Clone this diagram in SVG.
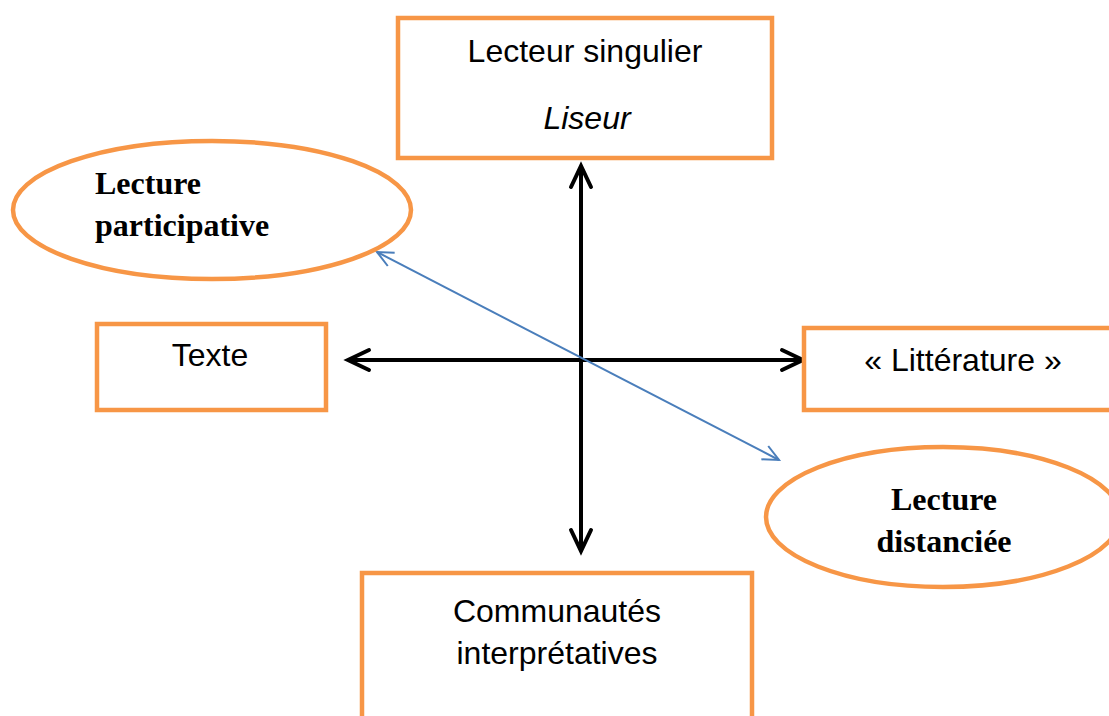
<svg xmlns="http://www.w3.org/2000/svg" width="1109" height="716" viewBox="0 0 1109 716">
<style>
.box{fill:#fff;stroke:#f79646;stroke-width:4.5}
.sans{font-family:"Liberation Sans",Arial,sans-serif;font-size:32px;fill:#000;text-anchor:middle}
.serif{font-family:"Liberation Serif","Times New Roman",serif;font-size:32px;font-weight:bold;fill:#000}
.axis{stroke:#000;stroke-width:4;fill:none}
.diag{stroke:#4a7ebb;stroke-width:2;fill:none}
</style>
<defs>
<marker id="blk" markerUnits="userSpaceOnUse" viewBox="-30 -15 36 30" refX="0" refY="0" markerWidth="36" markerHeight="30" orient="auto-start-reverse">
<path d="M-21,-10 L0,0 L-21,10" fill="none" stroke="#000" stroke-width="4" stroke-linecap="round" stroke-linejoin="miter"/>
</marker>
<marker id="blu" markerUnits="userSpaceOnUse" viewBox="-20 -12 24 24" refX="0" refY="0" markerWidth="24" markerHeight="24" orient="auto-start-reverse">
<path d="M-16,-7.5 L0,0 L-16,7.5" fill="none" stroke="#4a7ebb" stroke-width="2"/>
</marker>
</defs>
<rect width="1109" height="716" fill="#fff"/>
<g id="connectors">
<line class="axis" x1="581" y1="166" x2="581" y2="551" marker-start="url(#blk)" marker-end="url(#blk)"/>
<line class="axis" x1="348" y1="360" x2="803" y2="360" marker-start="url(#blk)" marker-end="url(#blk)"/>
<line class="diag" x1="377" y1="252" x2="779" y2="460" marker-start="url(#blu)" marker-end="url(#blu)"/>
</g>
<g id="lecteur">
<rect class="box" x="398" y="18" width="374" height="140"/>
<text class="sans" x="585" y="62">Lecteur singulier</text>
<text class="sans" x="587" y="129" font-style="italic">Liseur</text>
</g>
<g id="participative">
<ellipse cx="212" cy="210" rx="199" ry="69" fill="none" stroke="#f79646" stroke-width="4.5"/>
<text class="serif" x="95" y="194">Lecture</text>
<text class="serif" x="95" y="236">participative</text>
</g>
<g id="texte">
<rect class="box" x="97" y="324" width="229" height="86"/>
<text class="sans" x="210" y="366">Texte</text>
</g>
<g id="litterature">
<rect class="box" x="804" y="328" width="320" height="82"/>
<text class="sans" x="963" y="371">« Littérature »</text>
</g>
<g id="distanciee">
<ellipse cx="943" cy="517" rx="177" ry="70" fill="none" stroke="#f79646" stroke-width="4.5"/>
<text class="serif" x="944" y="510" text-anchor="middle">Lecture</text>
<text class="serif" x="944" y="552" text-anchor="middle">distanciée</text>
</g>
<g id="communautes">
<rect class="box" x="362" y="573" width="390" height="160"/>
<text class="sans" x="557" y="622">Communautés</text>
<text class="sans" x="557" y="664">interprétatives</text>
</g>
</svg>
